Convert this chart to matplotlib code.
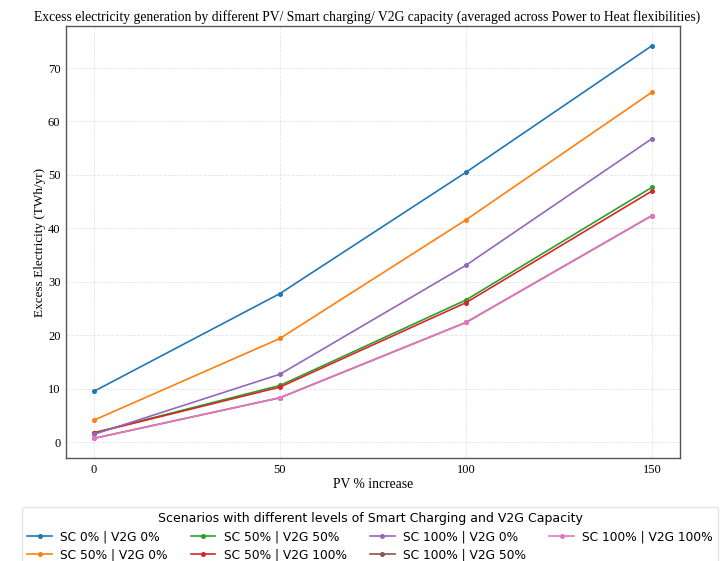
import matplotlib
matplotlib.use('Agg')
import matplotlib.pyplot as plt
import numpy as np

# PV increase levels (%)
pv_increase = [0, 50, 100, 150]

# Excess electricity (TWh/yr), averaged across Power to Heat flexibilities
sc0_v2g0 = [9.5, 27.8, 50.5, 74.2]
sc50_v2g0 = [4.1, 19.4, 41.6, 65.5]
sc50_v2g50 = [1.75, 10.6, 26.6, 47.7]
sc50_v2g100 = [1.7, 10.3, 26.1, 47.0]
sc100_v2g0 = [1.45, 12.7, 33.1, 56.8]
sc100_v2g50 = [0.7, 8.3, 22.4, 42.4]
sc100_v2g100 = [0.7, 8.3, 22.4, 42.4]

labels = ['SC 0% | V2G 0%', 'SC 50% | V2G 0%', 'SC 50% | V2G 50%',
          'SC 50% | V2G 100%', 'SC 100% | V2G 0%', 'SC 100% | V2G 50%',
          'SC 100% | V2G 100%']
series = [sc0_v2g0, sc50_v2g0, sc50_v2g50, sc50_v2g100,
          sc100_v2g0, sc100_v2g50, sc100_v2g100]
colors = ['#1f77b4', '#ff7f0e', '#2ca02c', '#d62728',
          '#9467bd', '#8c564b', '#e377c2']

serif = 'Liberation Serif'

fig = plt.figure(figsize=(7.23, 5.61), dpi=100)
ax = fig.add_axes([0.0913, 0.1836, 0.8492, 0.7701])

for vals, lab, col in zip(series, labels, colors):
    ax.plot(pv_increase, vals, marker='o', markersize=2.6, linewidth=1.2,
            color=col, label=lab, markeredgecolor=col)

ax.set_xticks(pv_increase)
ax.set_yticks(np.arange(0, 80, 10))
ax.grid(True, color='#dddddd', linewidth=0.6, linestyle='--', alpha=0.8)
ax.tick_params(length=0, pad=4, labelsize=9)
for lab in ax.get_xticklabels() + ax.get_yticklabels():
    lab.set_fontfamily(serif)
for sp in ax.spines.values():
    sp.set_color('#555555')
    sp.set_linewidth(1.0)

ax.set_xlabel('PV % increase', fontfamily=serif, fontsize=9.8, labelpad=2)
ax.set_ylabel('Excess Electricity (TWh/yr)', fontfamily=serif, fontsize=9.5,
              labelpad=1)
ax.set_title('Excess electricity generation by different PV/ Smart charging/ V2G capacity '
             '(averaged across Power to Heat flexibilities)',
             fontfamily=serif, fontsize=9.8, pad=4, x=0.49)

fig.legend(loc='upper center', bbox_to_anchor=(0.512, 0.1), ncol=4,
           title='Scenarios with different levels of Smart Charging and V2G Capacity',
           fontsize=8.8, title_fontsize=9, frameon=True, edgecolor='#dddddd',
           handlelength=2.0, handletextpad=0.7, columnspacing=1.9,
           borderaxespad=0.2, labelspacing=0.4)

fig.savefig('out.png', dpi=100)
